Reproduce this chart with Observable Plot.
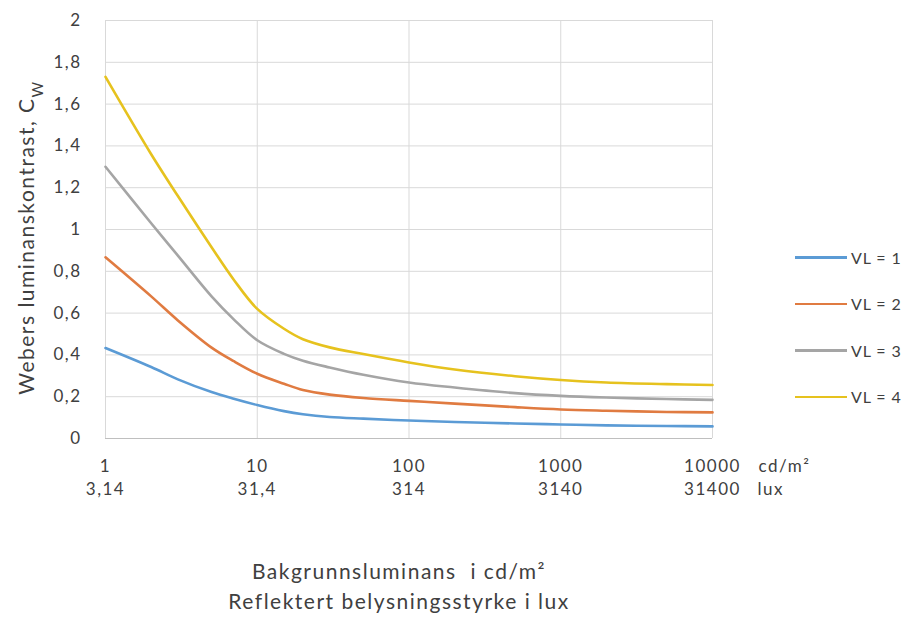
<!DOCTYPE html>
<html><head><meta charset="utf-8">
<script src="https://cdn.jsdelivr.net/npm/d3@7"></script>
<script src="https://cdn.jsdelivr.net/npm/@observablehq/plot@0.6"></script>
<style>
body{margin:0;background:#fff;font-family:Lato,"Open Sans",sans-serif;}
#wrap{position:relative;width:917px;height:639px;}
#legend{position:absolute;left:795px;top:234px;}
.item{display:flex;align-items:center;height:46.5px;font-size:16px;letter-spacing:0.9px;color:#404040;font-family:Lato,sans-serif}
.swatch{width:52px;height:2.5px;margin-right:4px}
</style></head><body><div id="wrap"></div>
<script>
// Background luminance (cd/m²)
const xValues = [1, 2, 3, 5, 7, 10, 15, 20, 30, 50, 100, 200, 500, 1000, 2000, 5000, 10000];
const vl1 = [0.433, 0.342, 0.283, 0.222, 0.190, 0.160, 0.131, 0.116, 0.103, 0.095, 0.086, 0.079, 0.072, 0.067, 0.063, 0.060, 0.058];
const vl2 = [0.867, 0.680, 0.565, 0.435, 0.370, 0.310, 0.262, 0.232, 0.210, 0.194, 0.180, 0.167, 0.150, 0.139, 0.133, 0.127, 0.125];
const vl3 = [1.300, 1.030, 0.875, 0.680, 0.570, 0.470, 0.405, 0.372, 0.340, 0.305, 0.268, 0.244, 0.217, 0.204, 0.196, 0.189, 0.185];
const vl4 = [1.730, 1.360, 1.160, 0.915, 0.760, 0.620, 0.525, 0.475, 0.436, 0.404, 0.364, 0.330, 0.298, 0.280, 0.268, 0.260, 0.256];
const seriesNames = ["VL = 1", "VL = 2", "VL = 3", "VL = 4"];
const seriesColors = ["#5B9BD5", "#E07B41", "#A5A5A5", "#E6C21E"];

const xTicks = [1, 10, 100, 1000, 10000];
const cdLabels = ["1", "10", "100", "1000", "10000"];
const luxLabels = ["3,14", "31,4", "314", "3140", "31400"];
const yTicks = [0, 0.2, 0.4, 0.6, 0.8, 1, 1.2, 1.4, 1.6, 1.8, 2];
const yTitle = "Webers luminanskontrast, C";
const ySub = "W";
const xTitle1 = "Bakgrunnsluminans  i cd/m²";
const xTitle2 = "Reflektert belysningsstyrke i lux";
const cdUnit = "cd/m²";
const luxUnit = "lux";

const allSeries = [vl1, vl2, vl3, vl4];
const rows = [];
allSeries.forEach((vals, s) => vals.forEach((v, i) => rows.push({x: xValues[i], y: v, s: seriesNames[s]})));

const txt = "#404040";
const chart = Plot.plot({
  width: 917, height: 639,
  marginLeft: 105, marginRight: 205, marginTop: 20, marginBottom: 201,
  style: "font-family: Lato, sans-serif; background: #fff; letter-spacing: 1.5px;",
  x: {type: "log", domain: [1, 10000], axis: null},
  y: {domain: [0, 2], axis: null},
  color: {domain: seriesNames, range: seriesColors},
  marks: [
    Plot.gridY(yTicks, {stroke: "#d9d9d9", strokeOpacity: 1}),
    Plot.gridX(xTicks, {stroke: "#d9d9d9", strokeOpacity: 1}),
    Plot.ruleY([0], {stroke: "#bfbfbf"}),
    Plot.axisY(yTicks, {tickSize: 0, tickPadding: 24, fontSize: 17, fill: txt,
      tickFormat: d => String(+d.toFixed(1)).replace(".", ","), label: null}),
    Plot.text(xTicks, {x: d => d, frameAnchor: "bottom", dy: 33, text: (d, i) => cdLabels[i], fontSize: 17, fill: txt}),
    Plot.text(xTicks, {x: d => d, frameAnchor: "bottom", dy: 56, text: (d, i) => luxLabels[i], fontSize: 17, fill: txt}),
    Plot.text([cdUnit], {x: 10000, frameAnchor: "bottom", dy: 33, dx: 46, textAnchor: "start", fontSize: 17, fill: txt}),
    Plot.text([luxUnit], {x: 10000, frameAnchor: "bottom", dy: 56, dx: 45, textAnchor: "start", fontSize: 17, fill: txt}),
    Plot.text([xTitle1], {frameAnchor: "bottom", textAnchor: "middle", dx: -10, dy: 140, fontSize: 21, fill: txt}),
    Plot.text([xTitle2], {frameAnchor: "bottom", textAnchor: "middle", dx: -10, dy: 170, fontSize: 21, fill: txt}),
    Plot.text([yTitle], {frameAnchor: "left", textAnchor: "middle", dx: -78, dy: 8, rotate: -90, fontSize: 21, fill: txt, className: "ytitle"}),
    Plot.line(rows, {x: "x", y: "y", stroke: "s", z: "s", strokeWidth: 2.6, curve: "catmull-rom"})
  ]
});
// subscript W in the y title
const yt = chart.querySelector(".ytitle text");
if (yt) {
  const ts = document.createElementNS("http://www.w3.org/2000/svg", "tspan");
  ts.textContent = ySub;
  ts.setAttribute("baseline-shift", "sub");
  ts.setAttribute("font-size", "15");
  yt.appendChild(ts);
}
const wrap = document.getElementById("wrap");
wrap.appendChild(chart);
const legend = document.createElement("div");
legend.id = "legend";
seriesNames.forEach((n, i) => {
  const it = document.createElement("div"); it.className = "item";
  const sw = document.createElement("span"); sw.className = "swatch"; sw.style.background = seriesColors[i];
  const lb = document.createElement("span"); lb.textContent = n;
  it.appendChild(sw); it.appendChild(lb); legend.appendChild(it);
});
wrap.appendChild(legend);
</script></body></html>
